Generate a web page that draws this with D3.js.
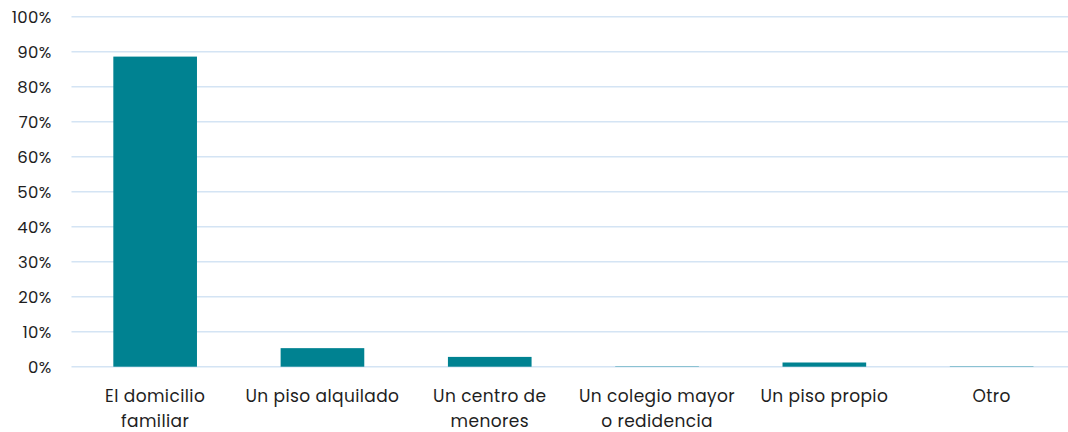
<!DOCTYPE html>
<html>
<head>
<meta charset="utf-8">
<script src="https://cdn.jsdelivr.net/npm/d3@7"></script>
<style>
  body { margin: 0; background: #fff; }
  text { font-family: Poppins, "Open Sans", sans-serif; fill: #1e1e1e; }
</style>
</head>
<body>
<div id="chart"></div>
<script>
// Chart data
var categories = ["El domicilio familiar", "Un piso alquilado", "Un centro de menores",
  "Un colegio mayor o redidencia", "Un piso propio", "Otro"];
var labelLines = [["El domicilio", "familiar"], ["Un piso alquilado"], ["Un centro de", "menores"],
  ["Un colegio mayor", "o redidencia"], ["Un piso propio"], ["Otro"]];
var values = [88.6, 5.3, 2.8, 0.1, 1.2, 0.1];
var yTicks = [0, 10, 20, 30, 40, 50, 60, 70, 80, 90, 100];

var svgWidth = 1068;
var svgHeight = 432;

var margin = { top: 16.7, left: 71.5 };
var plotBottom = 366.7;

var svg = d3.select("#chart")
  .append("svg")
  .attr("width", svgWidth)
  .attr("height", svgHeight);

// Scales
var xScale = d3.scaleBand()
  .domain(categories)
  .range([margin.left, margin.left + 6 * 167.3])
  .paddingInner(0.5)
  .paddingOuter(0.25);

var yScale = d3.scaleLinear()
  .domain([0, 100])
  .range([plotBottom, margin.top]);

// Gridlines
svg.append("g")
  .selectAll("line")
  .data(yTicks)
  .enter()
  .append("line")
  .attr("x1", margin.left)
  .attr("x2", svgWidth)
  .attr("y1", d => yScale(d))
  .attr("y2", d => yScale(d))
  .attr("stroke", "#d4e4f4")
  .attr("stroke-width", 1.5);

// Y axis
var leftAxis = d3.axisLeft(yScale)
  .tickValues(yTicks)
  .tickFormat(d => d + "%")
  .tickSize(0)
  .tickPadding(20);

var yAxis = svg.append("g")
  .attr("transform", `translate(${margin.left}, 0)`)
  .call(leftAxis);
yAxis.select(".domain").remove();
yAxis.selectAll("text")
  .attr("font-size", "16.5px")
  .attr("font-family", "Poppins, 'Open Sans', sans-serif")
  .attr("letter-spacing", "0.3px")
  .attr("fill", "#1e1e1e")
  .attr("dy", "0.38em");

// Bars
svg.append("g")
  .selectAll("rect")
  .data(values)
  .enter()
  .append("rect")
  .attr("x", (d, i) => xScale(categories[i]))
  .attr("y", d => yScale(d))
  .attr("width", xScale.bandwidth())
  .attr("height", d => plotBottom - yScale(d))
  .attr("fill", "#008291");

// Category labels
var labels = svg.append("g")
  .selectAll("text")
  .data(labelLines)
  .enter()
  .append("text")
  .attr("text-anchor", "middle")
  .attr("font-size", "17px")
  .attr("letter-spacing", "0.4px")
  .attr("x", (d, i) => xScale(categories[i]) + xScale.bandwidth() / 2)
  .attr("y", 402);

labels.selectAll("tspan")
  .data(d => d)
  .enter()
  .append("tspan")
  .attr("x", function() { return d3.select(this.parentNode).attr("x"); })
  .attr("dy", (d, i) => i === 0 ? 0 : 25)
  .text(d => d);
</script>
</body>
</html>
